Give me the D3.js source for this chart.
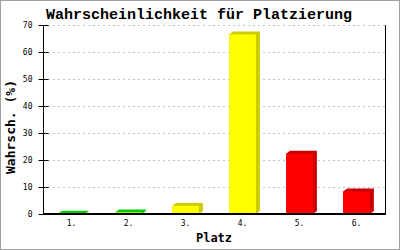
<!DOCTYPE html>
<html><head><meta charset="utf-8">
<script src="https://cdn.jsdelivr.net/npm/d3@7"></script>
<style>body{margin:0;background:#fff}svg{display:block}</style>
</head><body>
<script>
const categories = ["1.", "2.", "3.", "4.", "5.", "6."];
const values = [0.1, 0.6, 3.0, 66.5, 22.3, 8.3];
const fillColors = ["#00cc00", "#ffff00", "#ffff00", "#ffff00", "#ff0000", "#ff0000"];
const shadowColors = ["#00cc00", "#00cc00", "#cccc00", "#cccc00", "#cc0000", "#cc0000"];
const yTicks = [0, 10, 20, 30, 40, 50, 60, 70];
const title = "Wahrscheinlichkeit für Platzierung";
const xTitle = "Platz";
const yTitle = "Wahrsch. (%)";

const W = 400, H = 250;
const m = {left: 43, right: 15, top: 25, bottom: 36};
const svg = d3.select("body").append("svg").attr("width", W).attr("height", H);
svg.append("rect").attr("x", 0.5).attr("y", 0.5).attr("width", W - 1).attr("height", H - 1)
  .attr("fill", "#fff").attr("stroke", "#a0a0a0");

const x = d3.scaleBand().domain(categories).range([m.left, W - m.right]).paddingInner(0.53).paddingOuter(0.265);
const y = d3.scaleLinear().domain([0, 70]).range([H - m.bottom, m.top]);
const mono = "'DejaVu Sans Mono', 'Liberation Mono', monospace";

// grid
svg.append("g").selectAll("line").data(yTicks.filter(d => d > 0)).join("line")
  .attr("x1", m.left).attr("x2", W - m.right)
  .attr("y1", d => Math.round(y(d)) + 0.5).attr("y2", d => Math.round(y(d)) + 0.5)
  .attr("stroke", "#c0c0c0").attr("stroke-dasharray", "2,3");

// bars with 3D shadow extrusion
const g = svg.append("g");
const dx = 4, dy = 3;
categories.forEach((c, i) => {
  const x0 = x(c), bw = x.bandwidth(), yt = y(values[i]), yb = y(0);
  const pts = [[x0, yb], [x0, yt], [x0 + dx, yt - dy], [x0 + bw + dx, yt - dy], [x0 + bw + dx, yb - dy], [x0 + bw, yb]];
  g.append("polygon").attr("points", pts.map(p => p.join(",")).join(" ")).attr("fill", shadowColors[i]);
  g.append("rect").attr("x", x0).attr("y", yt).attr("width", bw).attr("height", Math.max(0, yb - yt))
    .attr("fill", fillColors[i]);
});

// axes
const yAxis = d3.axisLeft(y).tickValues(yTicks).tickSize(5).tickPadding(6);
const ya = svg.append("g").attr("transform", `translate(${m.left + 0.5},0)`).call(yAxis);
ya.select(".domain").remove();
ya.selectAll(".tick line").attr("x2", 5).attr("x1", -5).attr("stroke", "#000");
ya.selectAll("text").attr("font-family", mono).attr("font-size", 8).attr("fill", "#000");
svg.append("line").attr("x1", m.left + 0.5).attr("x2", m.left + 0.5).attr("y1", y(70)).attr("y2", y(0)).attr("stroke", "#000");
svg.append("line").attr("x1", W - m.right + 0.5).attr("x2", W - m.right + 0.5).attr("y1", y(70)).attr("y2", y(0)).attr("stroke", "#000");

const xAxis = d3.axisBottom(x).tickSize(0).tickPadding(6);
const xa = svg.append("g").attr("transform", `translate(0,${y(0)})`).call(xAxis);
xa.select(".domain").attr("stroke", "#000").attr("stroke-width", 2).attr("d", `M${m.left},0H${W - m.right + 1}`);
xa.selectAll("text").attr("font-family", mono).attr("font-size", 8).attr("fill", "#000");

// titles
svg.append("text").attr("x", 199).attr("y", 19).attr("text-anchor", "middle")
  .attr("font-family", "'Liberation Mono', monospace").attr("font-weight", "bold").attr("font-size", 15)
  .text(title);
svg.append("text").attr("x", (m.left + W - m.right) / 2).attr("y", 242).attr("text-anchor", "middle")
  .attr("font-family", mono).attr("font-weight", "bold").attr("font-size", 12).text(xTitle);
svg.append("text").attr("transform", `translate(15,127) rotate(-90)`).attr("text-anchor", "middle")
  .attr("font-family", mono).attr("font-weight", "bold").attr("font-size", 13).text(yTitle);
</script>
</body></html>
